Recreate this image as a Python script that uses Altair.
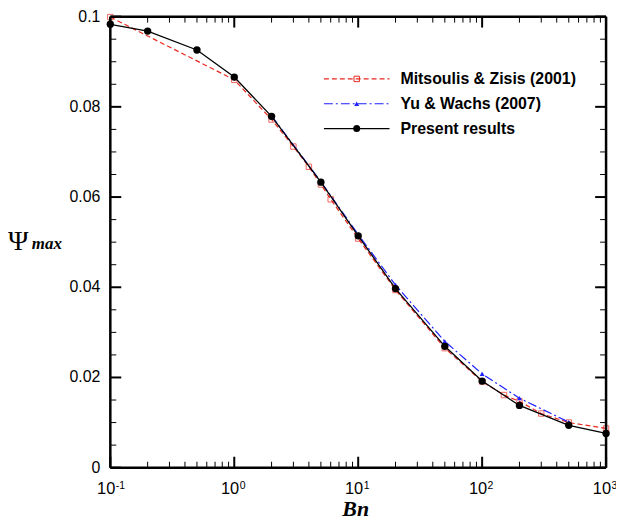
import altair as alt
import pandas as pd

# ---- data ----
present_bn = [0.1, 0.2, 0.5, 1, 2, 5, 10, 20, 50, 100, 200, 500, 1000]
present_psi = [0.0983, 0.0968, 0.0926, 0.0866, 0.0779, 0.0633, 0.0514, 0.0397,
               0.0269, 0.0192, 0.0138, 0.0094, 0.0076]

mitsoulis_bn = [0.1, 1, 2, 3, 4, 5, 6, 10, 20, 50, 100, 150, 200, 300, 500, 1000]
mitsoulis_psi = [0.0999, 0.0860, 0.0772, 0.0712, 0.0667, 0.0628, 0.0595, 0.0508,
                 0.0394, 0.0265, 0.0191, 0.0161, 0.0147, 0.0120, 0.0100, 0.0087]

yu_bn = [2, 5, 10, 20, 50, 100, 200, 500]
yu_psi = [0.0780, 0.0634, 0.0517, 0.0405, 0.0280, 0.0208, 0.0154, 0.0101]

series_labels = ["Mitsoulis & Zisis (2001)", "Yu & Wachs (2007)", "Present results"]

decade_ticks = [0.1, 1, 10, 100, 1000]
decade_base = ["10", "10", "10", "10", "10"]
decade_exponents = ["-1", "0", "1", "2", "3"]
minor_x_ticks = [0.2, 0.3, 0.4, 0.5, 0.6, 0.7, 0.8, 0.9,
                 2, 3, 4, 5, 6, 7, 8, 9,
                 20, 30, 40, 50, 60, 70, 80, 90,
                 200, 300, 400, 500, 600, 700, 800, 900]
y_ticks = [0, 0.02, 0.04, 0.06, 0.08, 0.1]
y_tick_labels = ["0", "0.02", "0.04", "0.06", "0.08", "0.1"]
minor_y_ticks = [0.005, 0.01, 0.015, 0.025, 0.03, 0.035, 0.045, 0.05, 0.055,
                 0.065, 0.07, 0.075, 0.085, 0.09, 0.095]

W, H = 499, 454
X_MIN, X_MAX = 0.1, 1000
Y_MIN, Y_MAX = 0.0, 0.1
RED = "#e8281e"
BLUE = "#1f1fff"
SANS = "Liberation Sans"
SERIF = "Liberation Serif"

# ---- tables ----
df_present = pd.DataFrame({"bn": present_bn, "psi": present_psi})
df_mits = pd.DataFrame({"bn": mitsoulis_bn, "psi": mitsoulis_psi})
df_yu = pd.DataFrame({"bn": yu_bn, "psi": yu_psi})
df_dec = pd.DataFrame({"bn": decade_ticks, "base": decade_base, "exp": decade_exponents})
df_major_y = pd.DataFrame({"psi": y_ticks, "label": y_tick_labels})


def tick_table(x_vals, y_vals, len_px):
    """Inward tick segments (2 points each) on all four sides, in data units."""
    dy = len_px / H * (Y_MAX - Y_MIN)
    fx = 10 ** (len_px / (W / 4.0))  # 4 decades across the plot width
    rows = []
    k = 0
    for v in x_vals:
        for a, b in ((Y_MIN, Y_MIN + dy), (Y_MAX, Y_MAX - dy)):
            rows += [{"tid": k, "bn": v, "psi": a}, {"tid": k, "bn": v, "psi": b}]
            k += 1
    for v in y_vals:
        for a, b in ((X_MIN, X_MIN * fx), (X_MAX, X_MAX / fx)):
            rows += [{"tid": k, "bn": a, "psi": v}, {"tid": k, "bn": b, "psi": v}]
            k += 1
    return pd.DataFrame(rows)


df_ticks_major = tick_table(decade_ticks, y_ticks, 11)
df_ticks_minor = tick_table(minor_x_ticks, minor_y_ticks, 6)

x_scale = alt.Scale(type="log", domain=[X_MIN, X_MAX], nice=False)
y_scale = alt.Scale(domain=[Y_MIN, Y_MAX], nice=False, zero=False)


def X():
    return alt.X("bn:Q", scale=x_scale, axis=None)


def Y():
    return alt.Y("psi:Q", scale=y_scale, axis=None)


# ---- inward ticks ----
ticks_major = alt.Chart(df_ticks_major).mark_line(color="black", strokeWidth=2).encode(
    x=X(), y=Y(), detail="tid:N")
ticks_minor = alt.Chart(df_ticks_minor).mark_line(color="black", strokeWidth=1).encode(
    x=X(), y=Y(), detail="tid:N")

# ---- data layers ----
mits_line = alt.Chart(df_mits).mark_line(color=RED, strokeDash=[5, 3], strokeWidth=1.2).encode(
    x=X(), y=Y())
mits_pts = alt.Chart(df_mits).mark_point(shape="square", filled=False, color=RED, size=30,
                                         strokeWidth=1).encode(x=X(), y=Y())
yu_line = alt.Chart(df_yu).mark_line(color=BLUE, strokeDash=[9, 3, 2, 3], strokeWidth=1.2).encode(
    x=X(), y=Y())
yu_pts = alt.Chart(df_yu).mark_point(shape="triangle-up", filled=True, color=BLUE, size=25,
                                     opacity=1).encode(x=X(), y=Y())
pres_line = alt.Chart(df_present).mark_line(color="black", strokeWidth=1.3).encode(
    x=X(), y=Y())
pres_pts = alt.Chart(df_present).mark_point(shape="circle", filled=True, color="black", size=55,
                                            opacity=1).encode(x=X(), y=Y())

# ---- frame (all four sides) ----
one = df_present.head(1)
frame_top = alt.Chart(one).mark_rule(color="black", strokeWidth=2.5).encode(
    x=alt.value(0), x2=alt.value(W), y=alt.value(0))
frame_bottom = alt.Chart(one).mark_rule(color="black", strokeWidth=2.5).encode(
    x=alt.value(0), x2=alt.value(W), y=alt.value(H))
frame_left = alt.Chart(one).mark_rule(color="black", strokeWidth=2.5).encode(
    x=alt.value(0), y=alt.value(0), y2=alt.value(H))
frame_right = alt.Chart(one).mark_rule(color="black", strokeWidth=2.5).encode(
    x=alt.value(W), y=alt.value(0), y2=alt.value(H))

# ---- tick labels ----
lab_base = alt.Chart(df_dec).mark_text(align="right", baseline="alphabetic", font=SANS,
                                       fontSize=16.5, color="black", dx=5).encode(
    x=X(), y=alt.value(H + 26.5), text="base:N")
lab_exp = alt.Chart(df_dec).mark_text(align="left", baseline="alphabetic", font=SANS,
                                      fontSize=10.5, color="black", dx=5.5).encode(
    x=X(), y=alt.value(H + 21.5), text="exp:N")
lab_y = alt.Chart(df_major_y).mark_text(align="right", baseline="middle", font=SANS,
                                        fontSize=16, color="black").encode(
    y=Y(), x=alt.value(-10), text="label:N")

# ---- axis titles ----
xtitle = alt.Chart(pd.DataFrame({"t": ["Bn"]})).mark_text(
    align="center", baseline="alphabetic", font=SERIF, fontSize=22, fontStyle="italic",
    fontWeight="bold", color="black").encode(
    x=alt.value(247), y=alt.value(H + 48.5), text="t:N")
ytitle_psi = alt.Chart(pd.DataFrame({"t": ["Ψ"]})).mark_text(
    align="left", baseline="alphabetic", font=SERIF, fontSize=28, color="black").encode(
    x=alt.value(-103), y=alt.value(235), text="t:N")
ytitle_max = alt.Chart(pd.DataFrame({"t": ["max"]})).mark_text(
    align="left", baseline="alphabetic", font=SERIF, fontSize=17, fontStyle="italic",
    fontWeight="bold", color="black").encode(
    x=alt.value(-79), y=alt.value(234), text="t:N")

# ---- legend ----
leg_y = [62.7, 87.7, 112.7]
leg_colors = [RED, BLUE, "black"]
leg_dash = [[5, 3], [9, 3, 2, 3], [1, 0]]
leg_shapes = ["square", "triangle-up", "circle"]
leg_filled = [False, True, True]
leg_sizes = [30, 25, 50]
legend_layers = []
for i, lab in enumerate(series_labels):
    d = pd.DataFrame({"label": [lab]})
    legend_layers.append(alt.Chart(d).mark_rule(color=leg_colors[i], strokeDash=leg_dash[i],
                                                strokeWidth=1.2).encode(
        x=alt.value(215), x2=alt.value(281), y=alt.value(leg_y[i])))
    legend_layers.append(alt.Chart(d).mark_point(shape=leg_shapes[i], filled=leg_filled[i],
                                                 color=leg_colors[i], size=leg_sizes[i],
                                                 opacity=1, strokeWidth=1).encode(
        x=alt.value(248), y=alt.value(leg_y[i])))
    legend_layers.append(alt.Chart(d).mark_text(align="left", baseline="middle", font=SANS,
                                                fontSize=16, fontWeight="bold",
                                                color="black").encode(
        x=alt.value(292), y=alt.value(leg_y[i]), text="label:N"))

chart = alt.layer(
    ticks_major, ticks_minor,
    mits_line, mits_pts, yu_line, yu_pts, pres_line, pres_pts,
    frame_top, frame_bottom, frame_left, frame_right,
    lab_base, lab_exp, lab_y, xtitle, ytitle_psi, ytitle_max,
    *legend_layers,
).properties(
    width=W, height=H,
    autosize=alt.AutoSizeParams(type="none"),
    padding={"left": 103, "top": 7, "right": 10, "bottom": 55},
).configure_view(stroke=None)

chart.save("out.html", embed_options={"renderer": "svg", "actions": False})
